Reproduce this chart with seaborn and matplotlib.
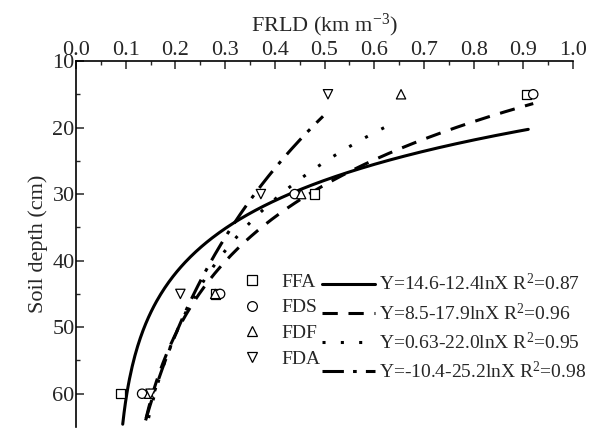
import numpy as np
import pandas as pd
import matplotlib
matplotlib.use("Agg")
import matplotlib.pyplot as plt
import seaborn as sns
from matplotlib.lines import Line2D

# ---- data ----
treatments = ["FFA", "FDS", "FDF", "FDA"]
depths = [15, 30, 45, 60]
frld_ffa = [0.907, 0.48, 0.28, 0.09]
frld_fds = [0.92, 0.44, 0.29, 0.133]
frld_fdf = [0.654, 0.453, 0.28, 0.147]
frld_fda = [0.507, 0.372, 0.21, 0.15]
equations = ["Y=14.6-12.4lnX R$^2$=0.87",
             "Y=8.5-17.9lnX R$^2$=0.96",
             "Y=0.63-22.0lnX R$^2$=0.95",
             "Y=-10.4-25.2lnX R$^2$=0.98"]
# fitted curve parameters (as drawn): depth = a - b*ln(X - c), X in [xmin, xmax]
fit_a = [18.2, 13.24, 7.3, -6.91]
fit_b = [11.3, 17.5, 20.5, 36.07]
fit_c = [0.0775, 0.085, 0.082, 0.0]
fit_xmin = [0.094, 0.141, 0.146, 0.14]
fit_xmax = [0.91, 0.92, 0.636, 0.497]

markers = ["s", "o", "^", "v"]
dashes = [(), (5, 3.5), (1, 5), (7, 3, 1.2, 3)]

sns.set_style("ticks")
plt.rcParams["font.family"] = ["Liberation Serif", "DejaVu Serif"]
plt.rcParams["mathtext.fontset"] = "custom"
plt.rcParams["mathtext.rm"] = "Liberation Serif"
plt.rcParams["mathtext.it"] = "Liberation Serif:italic"
plt.rcParams["mathtext.default"] = "regular"

fig = plt.figure(figsize=(5.92, 4.30), dpi=100)
ax = fig.add_axes([76/592, 1-427/430, 497/592, 366/430])

pts = pd.DataFrame({
    "trt": np.repeat(treatments, len(depths)),
    "depth": depths * len(treatments),
    "frld": frld_ffa + frld_fds + frld_fdf + frld_fda,
})

curves = []
for t, a, b, c, x0, x1 in zip(treatments, fit_a, fit_b, fit_c, fit_xmin, fit_xmax):
    xs = np.linspace(x0, x1, 300)
    curves.append(pd.DataFrame({"trt": t, "frld": xs, "depth": a - b*np.log(xs - c)}))
curves = pd.concat(curves, ignore_index=True)

sns.lineplot(data=curves, x="frld", y="depth", hue="trt", style="trt",
             palette=["black"]*4, dashes=dashes, sort=False, estimator=None,
             linewidth=2.2, legend=False, ax=ax)
sns.scatterplot(data=pts, x="frld", y="depth", style="trt", markers=markers,
                s=45, facecolor="white", edgecolor="black", linewidth=0.9,
                legend=False, ax=ax, zorder=3)

ax.set_xlim(0, 1.0)
ax.set_ylim(65, 10)
ax.xaxis.set_ticks_position("top")
ax.xaxis.set_label_position("top")
ax.set_xticks(np.arange(0, 1.01, 0.1))
ax.set_xticklabels([f"{v:.1f}" for v in np.arange(0, 1.01, 0.1)])
ax.set_xticks(np.arange(0.05, 1.0, 0.1), minor=True)
ax.set_yticks([10, 20, 30, 40, 50, 60])
ax.set_yticks([15, 25, 35, 45, 55], minor=True)
ax.tick_params(which="major", direction="in", length=6, width=1.1, labelsize=16, pad=1)
ax.tick_params(which="minor", direction="in", length=3, width=1.0)
ax.tick_params(axis="x", which="both", top=True, bottom=False)
for s in ["right", "bottom"]:
    ax.spines[s].set_visible(False)
for s in ["left", "top"]:
    ax.spines[s].set_linewidth(1.2)
    ax.spines[s].set_color("black")
ax.set_xlabel("FRLD (km m$^{-3}$)", fontsize=16, labelpad=7)
ax.set_ylabel("Soil depth (cm)", fontsize=16, labelpad=3)

mh = [Line2D([], [], ls="none", marker=m, mfc="white", mec="black", ms=7, mew=0.9) for m in markers]
lh = [Line2D([], [], color="black", lw=2.2, ls=(0, d) if d else "-") for d in dashes]
leg1 = ax.legend(mh, treatments, loc="upper left", bbox_to_anchor=(0.335, 0.42),
                 frameon=False, fontsize=14, handlelength=1.0, handletextpad=1.0,
                 labelspacing=0.41, borderpad=0, borderaxespad=0)
ax.add_artist(leg1)
ax.legend(lh, equations, loc="upper left", bbox_to_anchor=(0.495, 0.42),
          frameon=False, fontsize=14, handlelength=2.7, handletextpad=0.25,
          labelspacing=0.41, borderpad=0, borderaxespad=0)

fig.savefig("out.png", dpi=100)
